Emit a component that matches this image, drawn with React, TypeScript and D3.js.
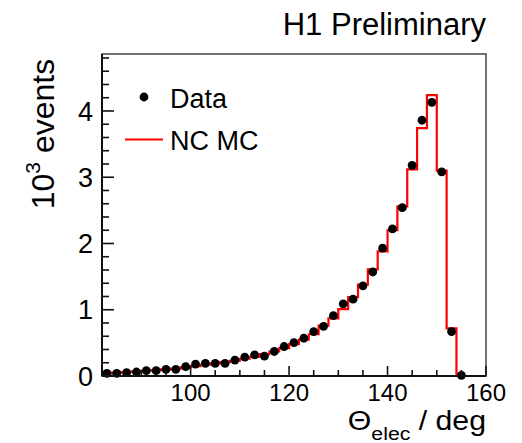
import React from "react";
import * as d3 from "d3";

const binEdgesStart = 82;
const binWidth = 2;
const dataValues = [
  0.04, 0.04, 0.05, 0.06, 0.08, 0.08, 0.10, 0.10, 0.14, 0.18,
  0.19, 0.19, 0.19, 0.24, 0.285, 0.32, 0.30, 0.37, 0.445, 0.505,
  0.57, 0.67, 0.75, 0.91, 1.09, 1.16, 1.36, 1.57, 1.93, 2.22,
  2.54, 3.18, 3.86, 4.13, 3.08, 0.67, 0.01,
];
const mcValues = [
  0.04, 0.05, 0.06, 0.07, 0.08, 0.09, 0.10, 0.11, 0.13, 0.15,
  0.17, 0.19, 0.21, 0.23, 0.26, 0.29, 0.33, 0.37, 0.42, 0.48,
  0.55, 0.63, 0.76, 0.87, 1.01, 1.19, 1.38, 1.61, 1.88, 2.20,
  2.56, 3.12, 3.74, 4.24, 3.10, 0.72, 0.0,
];
const xMajorTicks = [100, 120, 140, 160];
const xMinorTicks = [85, 90, 95, 105, 110, 115, 125, 130, 135, 145, 150, 155];
const yMajorTicks = [0, 1, 2, 3, 4];
const yMinorTicks = [0.2, 0.4, 0.6, 0.8, 1.2, 1.4, 1.6, 1.8, 2.2, 2.4, 2.6, 2.8, 3.2, 3.4, 3.6, 3.8, 4.2, 4.4, 4.6, 4.8];
const legendLabels = ["Data", "NC MC"];
const titleText = "H1 Preliminary";

const FONT = "'Liberation Sans', Arial, Helvetica, sans-serif";

export default function App() {
  const L = 102, R = 486, T = 54, B = 376;
  const x = d3.scaleLinear().domain([82, 160]).range([L, R]);
  const y = d3.scaleLinear().domain([0, 4.86]).range([B, T]);

  const stepPts: [number, number][] = [];
  mcValues.forEach((v, i) => {
    const x0 = binEdgesStart + i * binWidth;
    const x1 = x0 + binWidth;
    stepPts.push([x0, v]);
    stepPts.push([x1, v]);
  });
  const line = d3
    .line<[number, number]>()
    .x((d) => x(d[0]))
    .y((d) => y(d[1]));
  const mcPath = line(stepPts) || "";

  return (
    <svg
      width={522}
      height={443}
      style={{ position: "absolute", left: 0, top: 0, background: "#fff" }}
      fontFamily={FONT}
    >
      <rect x={0} y={0} width={522} height={443} fill="#fff" />
      <rect x={L} y={T} width={R - L} height={B - T} fill="none" stroke="#444" strokeWidth={1.5} />
      <path d={mcPath} fill="none" stroke="#ff0000" strokeWidth={2.2} />
      {dataValues.map((v, i) => (
        <circle
          key={i}
          cx={x(binEdgesStart + (i + 0.5) * binWidth)}
          cy={y(v)}
          r={4.4}
          fill="#000"
        />
      ))}
      <line x1={L} y1={T} x2={L} y2={B} stroke="#111" strokeWidth={2} />
      <line x1={L} y1={B} x2={R} y2={B} stroke="#111" strokeWidth={2} />
      {yMajorTicks.map((t) => (
        <g key={"ym" + t}>
          <line x1={L} x2={L + 12} y1={y(t)} y2={y(t)} stroke="#111" strokeWidth={1.6} />
          <text x={93} y={y(t)} dy="0.36em" textAnchor="end" fontSize={27} fill="#000">
            {t}
          </text>
        </g>
      ))}
      {yMinorTicks.map((t) => (
        <line key={"yn" + t} x1={L} x2={L + 7} y1={y(t)} y2={y(t)} stroke="#111" strokeWidth={1.6} />
      ))}
      {xMajorTicks.map((t) => (
        <g key={"xm" + t}>
          <line x1={x(t)} x2={x(t)} y1={B} y2={B - 10} stroke="#111" strokeWidth={1.6} />
          <text x={x(t)} y={401} textAnchor="middle" fontSize={24} fill="#000">
            {t}
          </text>
        </g>
      ))}
      {xMinorTicks.map((t) => (
        <line key={"xn" + t} x1={x(t)} x2={x(t)} y1={B} y2={B - 6} stroke="#111" strokeWidth={1.6} />
      ))}
      <g transform="translate(486, 430) scale(1.12, 1)">
        <text x={0} y={0} textAnchor="end" fontSize={27} fill="#000">
          <tspan>Θ</tspan>
          <tspan fontSize={19} dy={10}>elec</tspan>
          <tspan dy={-10}> / deg</tspan>
        </text>
      </g>
      <text
        transform={`translate(54, 134) rotate(-90)`}
        textAnchor="middle"
        fontSize={32}
        fill="#000"
      >
        <tspan>10</tspan>
        <tspan fontSize={21} dy={-14}>3</tspan>
        <tspan dy={14}> events</tspan>
      </text>
      <text x={486} y={35} textAnchor="end" fontSize={31} fill="#000">
        {titleText}
      </text>
      <circle cx={144} cy={97} r={4.4} fill="#000" />
      <text x={170} y={108} fontSize={27} fill="#000">
        {legendLabels[0]}
      </text>
      <line x1={125} x2={163} y1={139.5} y2={139.5} stroke="#ff0000" strokeWidth={2.2} />
      <text x={170} y={150} fontSize={27} fill="#000">
        {legendLabels[1]}
      </text>
    </svg>
  );
}
